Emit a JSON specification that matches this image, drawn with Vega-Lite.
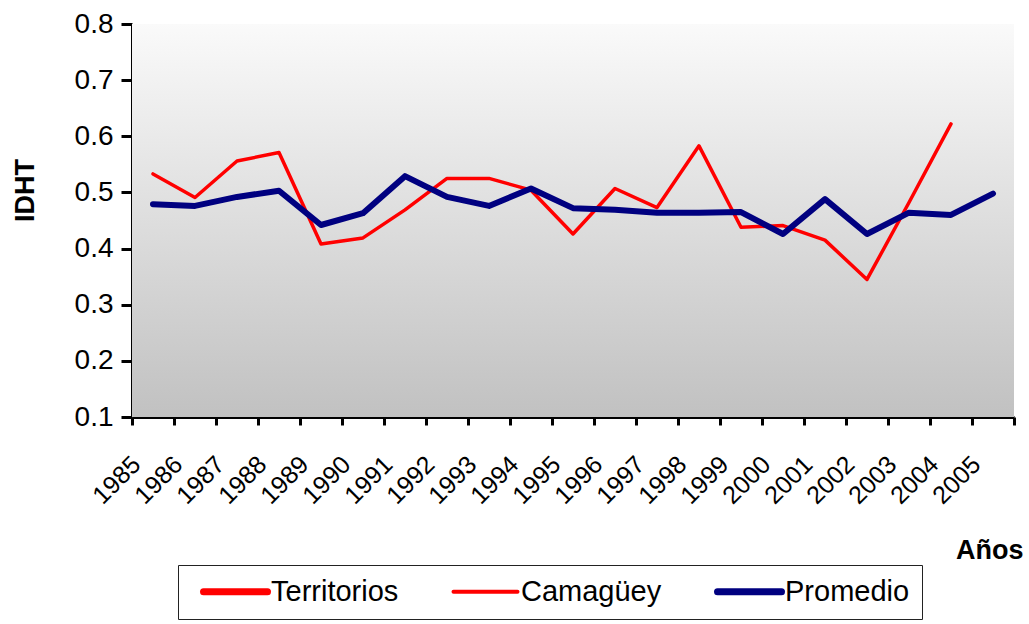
{
  "$schema": "https://vega.github.io/schema/vega-lite/v6.json",
  "width": 882,
  "height": 393,
  "autosize": "none",
  "padding": {"left": 132, "top": 24, "right": 15, "bottom": 207},
  "background": "white",
  "config": {
    "view": {"stroke": null},
    "font": "Liberation Sans"
  },
  "datasets": {
    "series": [
      {"year": "1985", "series": "Camagüey", "value": 0.533},
      {"year": "1986", "series": "Camagüey", "value": 0.491},
      {"year": "1987", "series": "Camagüey", "value": 0.556},
      {"year": "1988", "series": "Camagüey", "value": 0.571},
      {"year": "1989", "series": "Camagüey", "value": 0.408},
      {"year": "1990", "series": "Camagüey", "value": 0.419},
      {"year": "1991", "series": "Camagüey", "value": 0.469},
      {"year": "1992", "series": "Camagüey", "value": 0.525},
      {"year": "1993", "series": "Camagüey", "value": 0.525},
      {"year": "1994", "series": "Camagüey", "value": 0.504},
      {"year": "1995", "series": "Camagüey", "value": 0.426},
      {"year": "1996", "series": "Camagüey", "value": 0.507},
      {"year": "1997", "series": "Camagüey", "value": 0.473},
      {"year": "1998", "series": "Camagüey", "value": 0.583},
      {"year": "1999", "series": "Camagüey", "value": 0.438},
      {"year": "2000", "series": "Camagüey", "value": 0.441},
      {"year": "2001", "series": "Camagüey", "value": 0.415},
      {"year": "2002", "series": "Camagüey", "value": 0.345},
      {"year": "2003", "series": "Camagüey", "value": 0.482},
      {"year": "2004", "series": "Camagüey", "value": 0.622},
      {"year": "1985", "series": "Promedio", "value": 0.479},
      {"year": "1986", "series": "Promedio", "value": 0.476},
      {"year": "1987", "series": "Promedio", "value": 0.492},
      {"year": "1988", "series": "Promedio", "value": 0.503},
      {"year": "1989", "series": "Promedio", "value": 0.442},
      {"year": "1990", "series": "Promedio", "value": 0.463},
      {"year": "1991", "series": "Promedio", "value": 0.529},
      {"year": "1992", "series": "Promedio", "value": 0.492},
      {"year": "1993", "series": "Promedio", "value": 0.476},
      {"year": "1994", "series": "Promedio", "value": 0.507},
      {"year": "1995", "series": "Promedio", "value": 0.472},
      {"year": "1996", "series": "Promedio", "value": 0.469},
      {"year": "1997", "series": "Promedio", "value": 0.464},
      {"year": "1998", "series": "Promedio", "value": 0.464},
      {"year": "1999", "series": "Promedio", "value": 0.465},
      {"year": "2000", "series": "Promedio", "value": 0.426},
      {"year": "2001", "series": "Promedio", "value": 0.488},
      {"year": "2002", "series": "Promedio", "value": 0.426},
      {"year": "2003", "series": "Promedio", "value": 0.464},
      {"year": "2004", "series": "Promedio", "value": 0.46},
      {"year": "2005", "series": "Promedio", "value": 0.498}
    ]
  },
  "layer": [
    {
      "data": {"values": [{"lo": 0.1, "hi": 0.8}]},
      "mark": {
        "type": "rect",
        "color": {
          "gradient": "linear",
          "x1": 0, "y1": 0, "x2": 0, "y2": 1,
          "stops": [
            {"offset": 0, "color": "#fafafa"},
            {"offset": 1, "color": "#c1c1c1"}
          ]
        }
      },
      "encoding": {
        "y": {"field": "hi", "type": "quantitative"},
        "y2": {"field": "lo"}
      }
    },
    {
      "data": {"name": "series"},
      "mark": {"type": "line", "strokeJoin": "round", "strokeCap": "round"},
      "encoding": {
        "x": {
          "field": "year",
          "type": "ordinal",
          "scale": {
            "domain": ["1985","1986","1987","1988","1989","1990","1991","1992","1993","1994","1995","1996","1997","1998","1999","2000","2001","2002","2003","2004","2005"],
            "paddingInner": 0, "paddingOuter": 0
          },
          "axis": {
            "title": "Años",
            "titleFont": "Liberation Sans",
            "titleFontSize": 27,
            "titleFontWeight": "bold",
            "titleColor": "black",
            "titleAnchor": "end",
            "titleAlign": "right",
            "titleAngle": 0,
            "titleX": 891,
            "titleY": 141,
            "titleBaseline": "alphabetic",
            "labelAngle": -45,
            "labelAlign": "right",
            "labelBaseline": "middle",
            "labelFont": "Liberation Sans",
            "labelFontSize": 25,
            "labelColor": "black",
            "labelPadding": 35,
            "labelOffset": -17,
            "tickBand": "extent",
            "tickSize": 8,
            "tickWidth": 3,
            "tickColor": "black",
            "domainColor": "black",
            "domainWidth": 3,
            "grid": false
          }
        },
        "y": {
          "field": "value",
          "type": "quantitative",
          "scale": {"domain": [0.1, 0.8], "nice": false, "zero": false},
          "axis": {
            "title": "IDHT",
            "titleFont": "Liberation Sans",
            "titleFontSize": 27,
            "titleFontWeight": "bold",
            "titleColor": "black",
            "titleAngle": -90,
            "titleAlign": "center",
            "titleBaseline": "alphabetic",
            "titleX": -99,
            "titleY": 166,
            "values": [0.1, 0.2, 0.3, 0.4, 0.5, 0.6, 0.7, 0.8],
            "format": ".1f",
            "labelFont": "Liberation Sans",
            "labelFontSize": 28,
            "labelColor": "black",
            "labelPadding": 8,
            "tickSize": 11,
            "tickWidth": 3,
            "tickColor": "black",
            "domainColor": "black",
            "domainWidth": 3,
            "grid": false
          }
        },
        "color": {
          "field": "series",
          "type": "nominal",
          "scale": {
            "domain": ["Territorios", "Camagüey", "Promedio"],
            "range": ["#ff0000", "#ff0000", "#000080"]
          },
          "legend": {
            "title": null,
            "orient": "none",
            "legendX": 46,
            "legendY": 541,
            "direction": "horizontal",
            "strokeColor": "#222222",
            "fillColor": "white",
            "padding": 12,
            "symbolOffset": 31,
            "symbolType": "stroke",
            "symbolSize": 4096,
            "symbolStrokeWidth": 7,
            "labelFont": "Liberation Sans",
            "labelFontSize": 29,
            "labelColor": "black",
            "labelOffset": 21,
            "columnPadding": 41,
            "labelLimit": 400,
            "encode": {
              "symbols": {
                "update": {
                  "strokeWidth": {"signal": "datum.value === 'Camagüey' ? 4 : 7"},
                  "strokeCap": {"value": "round"}
                }
              }
            }
          }
        },
        "strokeWidth": {
          "condition": {"test": "datum.series === 'Camagüey'", "value": 3.5},
          "value": 6
        }
      }
    }
  ]
}
